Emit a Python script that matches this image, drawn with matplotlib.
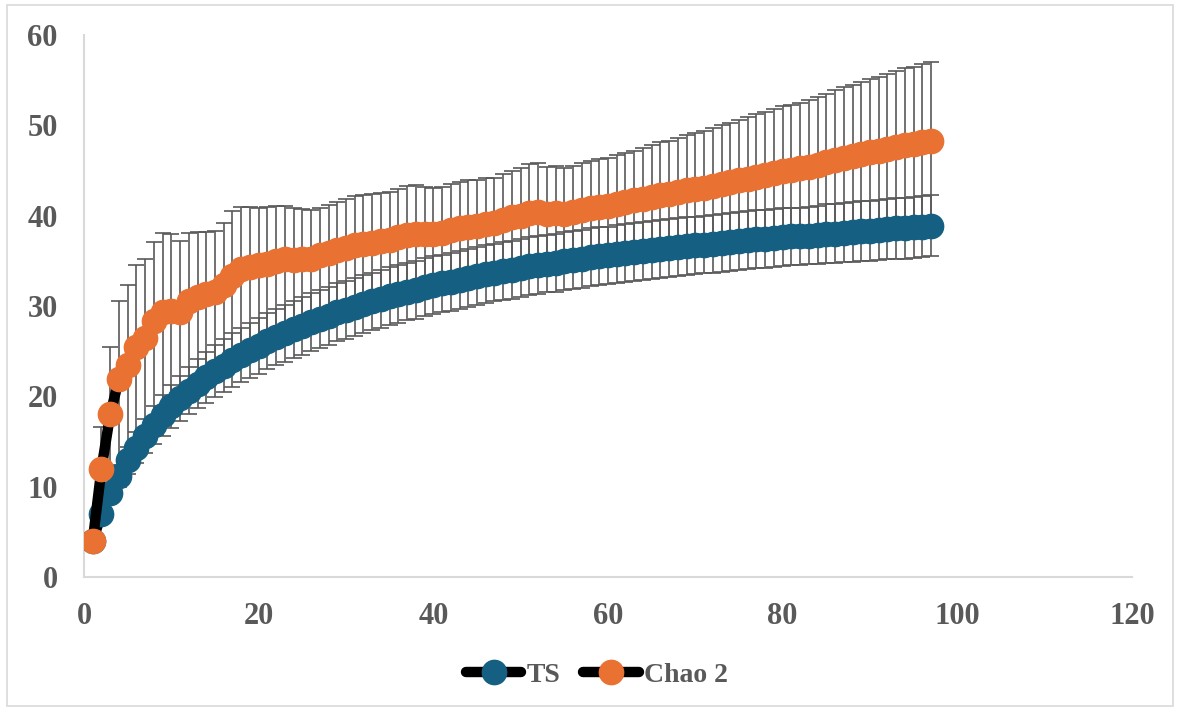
import matplotlib
matplotlib.use("Agg")
import matplotlib.pyplot as plt
from matplotlib.lines import Line2D
from matplotlib.patches import Rectangle
import numpy as np

samples = list(range(1, 98))

ts = [4.0, 7.0, 9.3, 11.2, 12.9, 14.3, 15.6, 16.8, 17.9, 18.9,
      19.8, 20.6, 21.4, 22.1, 22.8, 23.4, 24.0, 24.6, 25.1, 25.6,
      26.1, 26.6, 27.0, 27.4, 27.8, 28.2, 28.6, 28.9, 29.3, 29.6,
      29.9, 30.2, 30.5, 30.8, 31.1, 31.3, 31.6, 31.8, 32.1, 32.3,
      32.5, 32.7, 32.9, 33.1, 33.3, 33.5, 33.7, 33.9, 34.0, 34.2,
      34.4, 34.5, 34.7, 34.8, 35.0, 35.1, 35.2, 35.4, 35.5, 35.6,
      35.8, 35.9, 36.0, 36.1, 36.2, 36.3, 36.4, 36.5, 36.6, 36.7,
      36.8, 36.9, 37.0, 37.1, 37.2, 37.3, 37.4, 37.4, 37.5, 37.6,
      37.7, 37.7, 37.8, 37.9, 38.0, 38.0, 38.1, 38.2, 38.3, 38.3,
      38.4, 38.5, 38.6, 38.6, 38.7, 38.8, 38.9]

ts_err = [0.0, 0.6, 0.9, 1.2, 1.5, 1.7, 1.9, 2.1, 2.3, 2.4,
          2.5, 2.6, 2.7, 2.8, 2.9, 2.95, 3.0, 3.0, 3.05, 3.1,
          3.1, 3.1, 3.15, 3.15, 3.2, 3.2, 3.2, 3.2, 3.2, 3.2,
          3.2, 3.2, 3.2, 3.2, 3.2, 3.2, 3.2, 3.2, 3.2, 3.2,
          3.2, 3.2, 3.2, 3.2, 3.2, 3.2, 3.2, 3.2, 3.2, 3.2,
          3.2, 3.2, 3.2, 3.2, 3.2, 3.2, 3.2, 3.2, 3.2, 3.2,
          3.2, 3.2, 3.2, 3.2, 3.2, 3.2, 3.2, 3.2, 3.2, 3.2,
          3.2, 3.2, 3.2, 3.2, 3.2, 3.2, 3.2, 3.2, 3.2, 3.2,
          3.2, 3.2, 3.2, 3.2, 3.25, 3.25, 3.25, 3.3, 3.3, 3.3,
          3.3, 3.3, 3.35, 3.35, 3.35, 3.4, 3.4]

chao2 = [4.0, 12.0, 18.0, 21.9, 23.5, 25.5, 26.5, 28.3, 29.3, 29.5,
         29.3, 30.5, 31.0, 31.3, 31.6, 32.3, 33.3, 34.1, 34.3, 34.5,
         34.7, 35.0, 35.2, 35.1, 35.2, 35.2, 35.6, 35.9, 36.2, 36.4,
         36.8, 36.9, 37.0, 37.2, 37.3, 37.6, 37.9, 38.0, 38.0, 38.0,
         38.1, 38.4, 38.6, 38.8, 38.9, 39.1, 39.2, 39.5, 39.8, 40.0,
         40.3, 40.4, 40.2, 40.3, 40.2, 40.4, 40.6, 40.8, 41.0, 41.1,
         41.3, 41.5, 41.7, 41.9, 42.1, 42.3, 42.4, 42.6, 42.8, 42.9,
         43.1, 43.3, 43.5, 43.7, 43.9, 44.1, 44.3, 44.5, 44.7, 44.9,
         45.1, 45.3, 45.4, 45.6, 45.9, 46.2, 46.4, 46.6, 46.8, 47.0,
         47.2, 47.4, 47.6, 47.8, 47.9, 48.1, 48.3]

chao2_upper = [4.0, 16.6, 25.5, 30.5, 32.3, 34.5, 35.2, 37.1, 38.1, 38.0,
               37.2, 38.1, 38.2, 38.2, 38.3, 39.2, 40.5, 41.0, 41.0, 40.9,
               41.0, 41.1, 41.1, 40.8, 40.7, 40.6, 40.9, 41.2, 41.5, 41.8,
               42.2, 42.3, 42.4, 42.5, 42.6, 43.0, 43.3, 43.4, 43.2, 43.1,
               43.2, 43.5, 43.7, 43.9, 44.0, 44.2, 44.2, 44.6, 45.0, 45.3,
               45.7, 45.8, 45.4, 45.5, 45.3, 45.5, 45.8, 46.0, 46.3, 46.4,
               46.7, 46.9, 47.2, 47.5, 47.8, 48.1, 48.3, 48.6, 48.9, 49.1,
               49.4, 49.7, 50.0, 50.3, 50.6, 50.9, 51.2, 51.5, 51.8, 52.1,
               52.3, 52.5, 52.8, 53.1, 53.5, 53.9, 54.2, 54.5, 54.8, 55.1,
               55.4, 55.7, 56.0, 56.3, 56.5, 56.8, 57.0]

# lower CI bounds of Chao 2 (hidden behind the TS markers in the reference)
chao2_lower = [4.0, 7.2, 9.6, 11.5, 13.2, 14.6, 15.9, 17.1, 18.2, 19.2,
               20.1, 20.9, 21.7, 22.4, 23.1, 23.7, 24.3, 24.9, 25.4, 25.9,
               26.4, 26.9, 27.3, 27.7, 28.1, 28.5, 28.9, 29.2, 29.6, 29.9,
               30.2, 30.5, 30.8, 31.1, 31.4, 31.6, 31.9, 32.1, 32.4, 32.6,
               32.8, 33.0, 33.2, 33.4, 33.6, 33.8, 34.0, 34.2, 34.3, 34.5,
               34.7, 34.8, 35.0, 35.1, 35.3, 35.4, 35.5, 35.7, 35.8, 35.9,
               36.1, 36.2, 36.3, 36.4, 36.5, 36.6, 36.7, 36.8, 36.9, 37.0,
               37.1, 37.2, 37.3, 37.4, 37.5, 37.6, 37.7, 37.7, 37.8, 37.9,
               38.0, 38.0, 38.1, 38.2, 38.3, 38.3, 38.4, 38.5, 38.6, 38.6,
               38.7, 38.8, 38.9, 38.9, 39.0, 39.1, 39.2]

x_ticks = [0, 20, 40, 60, 80, 100, 120]
y_ticks = [0, 10, 20, 30, 40, 50, 60]
series_names = ["TS", "Chao 2"]

BLUE = "#156082"
ORANGE = "#E97132"
GREY = "#595959"
AXIS_GREY = "#D9D9D9"
FONT = "Liberation Serif"

W, H = 1180, 711
fig = plt.figure(figsize=(W / 100, H / 100), dpi=100)
ax = fig.add_axes([84 / W, (H - 577) / H, (1132 - 84) / W, (577 - 35) / H])

x = np.array(samples)
ts_a = np.array(ts)
ts_e = np.array(ts_err)
ch_a = np.array(chao2)
ch_up = np.array(chao2_upper)
ch_lo = np.array(chao2_lower)

eb_kw = dict(fmt="none", ecolor=GREY, elinewidth=1.2, capsize=6, capthick=1.2)
ax.errorbar(x, ts_a, yerr=ts_e, zorder=1, **eb_kw)
ax.errorbar(x, ch_a, yerr=[ch_a - ch_lo, ch_up - ch_a], zorder=1, **eb_kw)

ms = 17.5
lw = 7.5
ax.plot(x, ts_a, color="black", lw=lw, marker="o", ms=ms,
        markerfacecolor=BLUE, markeredgecolor=BLUE, zorder=3,
        solid_capstyle="round", solid_joinstyle="round")
ax.plot(x, ch_a, color="black", lw=lw, marker="o", ms=ms,
        markerfacecolor=ORANGE, markeredgecolor=ORANGE, zorder=4,
        solid_capstyle="round", solid_joinstyle="round")

ax.set_xlim(0, 120)
ax.set_ylim(0, 60)
ax.set_xticks(x_ticks)
ax.set_yticks(y_ticks)
ax.tick_params(length=0)
ax.tick_params(axis="x", pad=18)
ax.tick_params(axis="y", pad=19)
for lab in ax.get_xticklabels() + ax.get_yticklabels():
    lab.set_fontfamily(FONT)
    lab.set_fontweight("bold")
    lab.set_fontsize(22)
    lab.set_color(GREY)

for s in ["top", "right"]:
    ax.spines[s].set_visible(False)
for s in ["left", "bottom"]:
    ax.spines[s].set_color(AXIS_GREY)
    ax.spines[s].set_linewidth(1.5)
ax.set_facecolor("white")

handles = [
    Line2D([0], [0], color="black", lw=lw, marker="o", ms=ms,
           markerfacecolor=BLUE, markeredgecolor=BLUE, solid_capstyle="round"),
    Line2D([0], [0], color="black", lw=lw, marker="o", ms=ms,
           markerfacecolor=ORANGE, markeredgecolor=ORANGE, solid_capstyle="round"),
]
leg = fig.legend(handles, series_names, loc="center", bbox_to_anchor=(597 / W, 1 - 675 / H),
                 ncol=2, frameon=False, handlelength=2.0, handletextpad=0.2,
                 columnspacing=0.8,
                 prop={"family": FONT, "weight": "bold", "size": 20})
for t in leg.get_texts():
    t.set_color(GREY)

fig.patches.append(Rectangle((7 / W, 5 / H), (W - 14) / W, (H - 10) / H,
                             transform=fig.transFigure, fill=False,
                             edgecolor=AXIS_GREY, lw=1.2))

fig.savefig("out.png", dpi=100, facecolor="white")
